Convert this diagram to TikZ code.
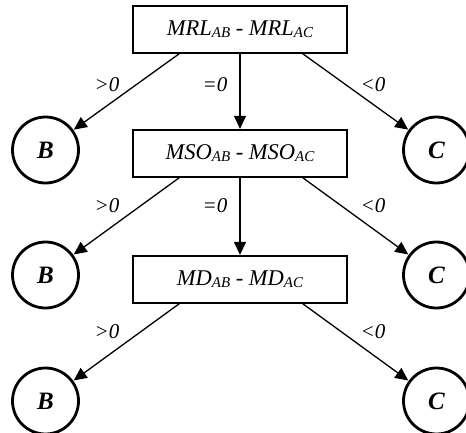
\documentclass[tikz,border=0pt]{standalone}
\usepackage{fontspec}
\setmainfont{Liberation Serif}
\usetikzlibrary{arrows.meta}
\newcommand\subab[1]{\raisebox{-2pt}{\fontsize{15pt}{15pt}\selectfont #1}}
\tikzset{
  box/.style={draw, line width=1.3pt, minimum width=214pt, minimum height=47pt, inner sep=0pt, font=\fontsize{22.5pt}{24pt}\selectfont\itshape},
  circ/.style={draw, circle, line width=2.8pt, minimum size=66pt, inner sep=0pt, font=\fontsize{25pt}{27pt}\selectfont\bfseries\itshape},
  lab/.style={font=\fontsize{21pt}{23pt}\selectfont\itshape, inner sep=0pt},
  arr/.style={line width=1.3pt, -{Triangle[length=13pt,width=12pt]}, shorten >=0.5pt}
}
\begin{document}
\begin{tikzpicture}[x=1pt,y=-1pt]
\useasboundingbox (0,0) rectangle (466,432);
\node[box] (m1) at (240,29.5) {MRL\subab{AB} - MRL\subab{AC}};
\node[box] (m2) at (240,153.5) {MSO\subab{AB} - MSO\subab{AC}};
\node[box] (m3) at (240,279.5) {MD\subab{AB} - MD\subab{AC}};
\node[circ] (b1) at (45.5,150) {B};
\node[circ] (c1) at (436.5,150) {C};
\node[circ] (b2) at (45.5,275) {B};
\node[circ] (c2) at (436.5,275) {C};
\node[circ] (b3) at (45.5,401) {B};
\node[circ] (c3) at (436.5,401) {C};
\draw[arr] ([xshift=47pt]m1.south west) -- (b1);
\draw[arr] ([xshift=-45pt]m1.south east) -- (c1);
\draw[arr] (m1) -- (m2);
\draw[arr] ([xshift=47pt]m2.south west) -- (b2);
\draw[arr] ([xshift=-45pt]m2.south east) -- (c2);
\draw[arr] (m2) -- (m3);
\draw[arr] ([xshift=47pt]m3.south west) -- (b3);
\draw[arr] ([xshift=-45pt]m3.south east) -- (c3);
\node[lab] (l1a) at (107,85) {>0};
\node[lab] (l1b) at (215,85) {=0};
\node[lab] (l1c) at (373,85) {<0};
\node[lab] (l2a) at (107,206) {>0};
\node[lab] (l2b) at (215,206) {=0};
\node[lab] (l2c) at (373,206) {<0};
\node[lab] (l3a) at (107,332) {>0};
\node[lab] (l3c) at (373,332) {<0};
\end{tikzpicture}
\end{document}
